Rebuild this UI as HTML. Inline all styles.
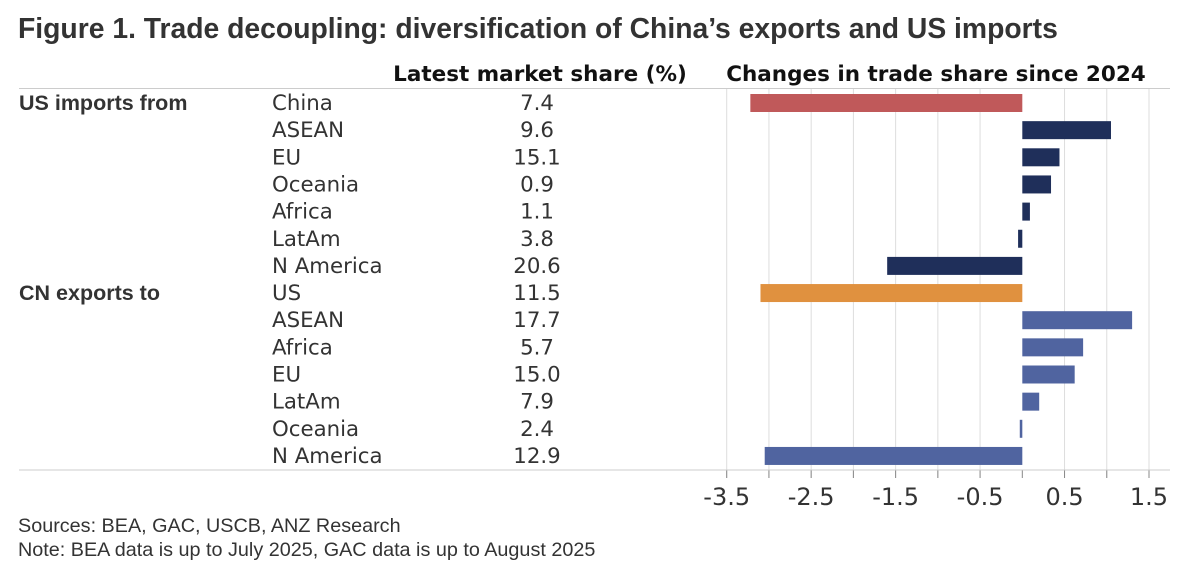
<!DOCTYPE html>
<html><head><meta charset="utf-8"><style>
body{margin:0;width:1190px;height:577px;background:#fff;font-family:"Liberation Sans",sans-serif;overflow:hidden}
svg{display:block}
</style></head><body>
<svg width="1190" height="577" id="chart">
<text x="18" y="38" font-size="28.3" font-weight="bold" fill="#333">Figure 1. Trade decoupling: diversification of China’s exports and US imports</text>
<text x="540" y="81" font-size="21.5" font-weight="bold" fill="#111" text-anchor="middle" font-family="DejaVu Sans">Latest market share (%)</text>
<text x="936" y="81" font-size="21.5" font-weight="bold" fill="#111" text-anchor="middle" font-family="DejaVu Sans">Changes in trade share since 2024</text>
<line x1="19" y1="88.5" x2="1170" y2="88.5" stroke="#ccc"/>
<g id="grid"></g><g id="rows"></g><g id="axis"></g>
<text x="18" y="532" font-size="19.8" fill="#333">Sources: BEA, GAC, USCB, ANZ Research</text>
<text x="18" y="556" font-size="19.8" fill="#333">Note: BEA data is up to July 2025, GAC data is up to August 2025</text>
</svg>
<script>
const categories=["China","ASEAN","EU","Oceania","Africa","LatAm","N America","US","ASEAN","Africa","EU","LatAm","Oceania","N America"];
const groups=["US imports from","","","","","","","CN exports to","","","","","",""];
const shares=["7.4","9.6","15.1","0.9","1.1","3.8","20.6","11.5","17.7","5.7","15.0","7.9","2.4","12.9"];
const changes=[-3.22,1.05,0.44,0.34,0.09,-0.05,-1.6,-3.1,1.3,0.72,0.62,0.2,-0.03,-3.05];
const colors=["#c0595a","#1f2f5a","#1f2f5a","#1f2f5a","#1f2f5a","#1f2f5a","#1f2f5a","#e0913f","#5064a0","#5064a0","#5064a0","#5064a0","#5064a0","#5064a0"];
const tickLabels=["-3.5","-2.5","-1.5","-0.5","0.5","1.5"];
const NS="http://www.w3.org/2000/svg";
const x0=726.7,x1=1149,vmin=-3.5,vmax=1.5;
const xs=v=>x0+(v-vmin)/(vmax-vmin)*(x1-x0);
const ys=i=>103+i*27.15;
function mk(t,a,p){const e=document.createElementNS(NS,t);for(const k in a)e.setAttribute(k,a[k]);p.appendChild(e);return e;}
const grid=document.getElementById('grid'),rows=document.getElementById('rows'),axis=document.getElementById('axis');
for(let v=vmin;v<=vmax+1e-9;v+=0.5){
 const g=mk('line',{x1:xs(v),x2:xs(v),y1:89,y2:478,stroke:(Math.abs(v)<1e-9?'#fff':'#ddd')},grid);
 
 
 const t=mk('line',{x1:xs(v),x2:xs(v),y1:470,y2:478,stroke:'#888'},axis);
 
 
}
tickLabels.forEach(l=>{const t=mk('text',{x:xs(parseFloat(l)),y:505,'font-size':24,fill:'#333','text-anchor':'middle','font-family':'DejaVu Sans'},axis);t.textContent=l;
 
 });
const al=mk('line',{x1:19,x2:1170,y1:470,y2:470,stroke:'#ccc'},axis);


categories.forEach((c,i)=>{
 const y=ys(i);
 if(groups[i]){const g=mk('text',{x:19,y:y+7,'font-size':21.5,'font-weight':'bold',fill:'#333'},rows);g.textContent=groups[i];
  
  }
 const t=mk('text',{x:272,y:y+7,'font-size':21.3,fill:'#333','font-family':'DejaVu Sans'},rows);t.textContent=c;
 
 
 const s=mk('text',{x:537,y:y+7,'font-size':21.3,fill:'#333','text-anchor':'middle','font-family':'DejaVu Sans'},rows);s.textContent=shares[i];
 
 
 const v=changes[i],a=xs(Math.min(0,v)),b=xs(Math.max(0,v));
 const r=mk('rect',{x:a,y:y-9,width:Math.max(b-a,1.5),height:18,fill:colors[i]},rows);
 
 
});
</script>
</body></html>
